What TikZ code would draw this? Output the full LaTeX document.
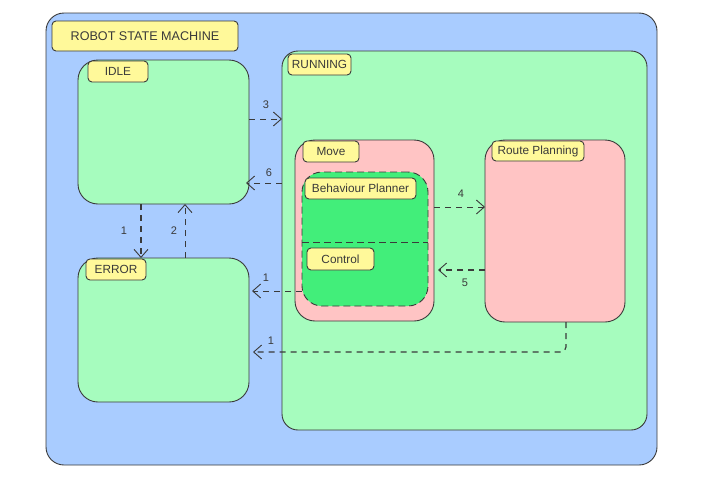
\documentclass[tikz,border=0pt]{standalone}
\usepackage{fontspec}
\setmainfont{Liberation Sans}
\usetikzlibrary{arrows.meta,calc}
\definecolor{frameblue}{HTML}{A9CCFF}
\definecolor{stategreen}{HTML}{A6FCBE}
\definecolor{subpink}{HTML}{FFC4C4}
\definecolor{innergreen}{HTML}{42EE7A}
\definecolor{tagyellow}{HTML}{FFF99A}
\definecolor{ink}{HTML}{3A3A3A}
\tikzset{
  region/.style={draw=ink, line width=0.9pt, rounded corners=#1, outer sep=0pt, inner sep=0pt, anchor=north west},
  tag/.style={draw=ink, line width=0.9pt, fill=tagyellow, rounded corners=4pt, outer sep=0pt, inner sep=0pt, anchor=north west, font=\fontsize{11.8}{13}\selectfont, text=ink},
  arr/.style={draw=ink, line width=0.9pt, dash pattern=on 6pt off 5pt, -{Straight Barb[length=8pt,width=14pt,line width=0.9pt]}},
  num/.style={font=\fontsize{11}{12}\selectfont, text=ink, inner sep=0pt}
}
\begin{document}
\begin{tikzpicture}[x=1pt,y=-1pt]
\useasboundingbox (0,0) rectangle (703,490);
% machine frame
\node[region=18pt, fill=frameblue, minimum width=611pt, minimum height=452pt] (machine) at (46,13) {};
\node[tag, minimum width=186pt, minimum height=30pt, font=\fontsize{12.6}{14}\selectfont] (title) at (52,21) {ROBOT STATE MACHINE};
% top-level states
\node[region=20pt, fill=stategreen, minimum width=171pt, minimum height=144pt] (idle) at (78,60) {};
\node[tag, minimum width=60pt, minimum height=21pt] (idletag) at (88,61) {IDLE};
\node[region=20pt, fill=stategreen, minimum width=171pt, minimum height=144pt] (error) at (78,258) {};
\node[tag, minimum width=60pt, minimum height=21pt] (errortag) at (86,259) {ERROR};
\node[region=16pt, fill=stategreen, minimum width=365pt, minimum height=379pt] (running) at (282,51) {};
\node[tag, minimum width=63pt, minimum height=21pt] (runningtag) at (288,54) {RUNNING};
% substates of RUNNING
\node[region=20pt, fill=subpink, minimum width=139pt, minimum height=181pt] (move) at (295,140) {};
\node[tag, minimum width=56pt, minimum height=21pt] (movetag) at (303,141) {Move};
\node[region=20pt, fill=innergreen, dashed, dash pattern=on 7pt off 4pt, minimum width=126pt, minimum height=134pt] (bp) at (302,172) {};
\draw[draw=ink, line width=0.9pt, dash pattern=on 7pt off 4pt] (bp.west |- 0,242) -- (bp.east |- 0,242);
\node[tag, minimum width=111pt, minimum height=21pt] (bptag) at (305,178) {Behaviour Planner};
\node[tag, minimum width=67pt, minimum height=22pt] (ctrltag) at (307,248) {Control};
\node[region=20pt, fill=subpink, minimum width=140pt, minimum height=182pt] (route) at (485,140) {};
\node[tag, minimum width=92pt, minimum height=20pt] (routetag) at (492,141) {Route Planning};
% transitions
\draw[arr] ([yshift=13pt]idle.east) -- ([yshift=13pt]idle.east -| running.west);
\node[num] (n3) at (266,105) {3};
\draw[arr] ([yshift=-51pt]idle.east -| running.west) -- ([yshift=-51pt, xshift=-3pt]idle.east);
\node[num] (n6) at (269,173) {6};
\draw[arr, line width=1.2pt] ([xshift=-22.5pt]idle.south) -- ([xshift=-22.5pt]error.north);
\node[num] (n1a) at (124,231) {1};
\draw[arr] ([xshift=21.5pt]error.north) -- ([xshift=21.5pt]idle.south);
\node[num] (n2) at (174,231) {2};
\draw[arr] ([yshift=23.5pt]move.east) -- ([yshift=23.5pt]move.east -| route.west);
\node[num] (n4) at (461,194) {4};
\draw[arr, line width=1.2pt] ([yshift=-39pt]route.west) -- ([yshift=-39pt, xshift=4pt]route.west -| move.east);
\node[num] (n5) at (465,283) {5};
\draw[arr] ([yshift=39pt]error.east -| bp.west) -- ([yshift=39pt, xshift=3pt]error.east);
\node[num] (n1b) at (266,278) {1};
\draw[arr, line width=1.2pt, rounded corners=5pt] ([xshift=11pt]route.south) -- ([xshift=11pt, yshift=-22pt]route.south |- error.east) -- ([yshift=-22pt, xshift=4pt]error.east);
\node[num] (n1c) at (271,341) {1};
\end{tikzpicture}
\end{document}
